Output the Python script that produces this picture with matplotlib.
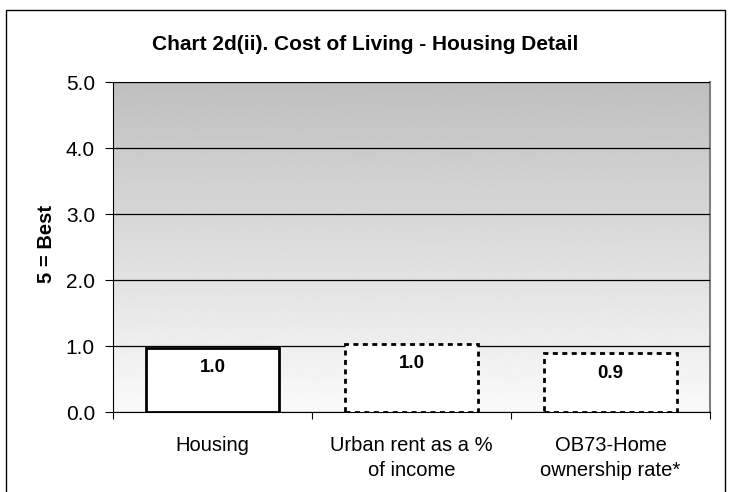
import numpy as np
import matplotlib
matplotlib.use("agg")
import matplotlib.pyplot as plt
from matplotlib.patches import Rectangle

categories = ["Housing", "Urban rent as a %\nof income", "OB73-Home\nownership rate*"]
values = [0.97, 1.03, 0.89]
labels = ["1.0", "1.0", "0.9"]
styles = ["solid", "dotted", "dotted"]

plt.rcParams["font.family"] = ["Liberation Sans", "DejaVu Sans"]

fig = plt.figure(figsize=(7.30, 4.92), dpi=100)
ax = fig.add_axes([113 / 730, 1 - 412 / 492, (710 - 113) / 730, (412 - 82) / 492])

# gradient background, gray at top to near white at bottom
grad = np.linspace(0.98, 0.75, 256).reshape(-1, 1)
ax.imshow(grad, cmap="gray", vmin=0, vmax=1, aspect="auto", origin="lower",
          extent=[-0.5, 2.5, 0, 5], zorder=0)

x = np.arange(len(categories))
for i, (v, s) in enumerate(zip(values, styles)):
    ax.bar(x[i], v, width=0.667, facecolor="white", edgecolor="black",
           linewidth=2, linestyle=(0, (1.8, 1.6)) if s == "dotted" else "solid", zorder=3)
    ax.text(x[i], v - 0.3, labels[i], ha="center", va="center",
            fontsize=13.5, fontweight="bold", zorder=4)

ax.set_xlim(-0.5, 2.5)
ax.set_ylim(0, 5)
ax.set_yticks(np.arange(0, 5.1, 1.0))
ax.set_yticklabels([f"{t:.1f}" for t in np.arange(0, 5.1, 1.0)], fontsize=15)
ax.yaxis.grid(True, color="black", linewidth=0.9)
ax.set_axisbelow(False)
for line in ax.get_ygridlines():
    line.set_zorder(1)

ax.set_xticks([-0.5, 0.5, 1.5, 2.5])
ax.set_xticklabels([])
ax.set_xticks(x, minor=True)
ax.set_xticklabels(categories, minor=True, fontsize=14.5, linespacing=1.45)
ax.tick_params(axis="x", which="minor", length=0, pad=17)
ax.tick_params(axis="x", which="major", length=5, direction="out")
ax.tick_params(axis="y", length=6, direction="out", pad=7)

ax.spines["left"].set_color("black")
ax.spines["bottom"].set_color("black")
ax.spines["top"].set_color("#808080")
ax.spines["right"].set_color("#808080")
ax.spines["right"].set_linewidth(1.5)

ax.set_ylabel("5 = Best", fontsize=14.5, fontweight="bold")
ax.yaxis.set_label_coords((56 - 113) / 597, 0.51)
fig.text(0.5, 1 - 45 / 492, "Chart 2d(ii). Cost of Living - Housing Detail",
         ha="center", va="center", fontsize=15, fontweight="bold")

fig.patches.append(Rectangle((6 / 730, -0.05), (725 - 6) / 730, 1.05 - 10 / 492,
                             transform=fig.transFigure, fill=False,
                             edgecolor="black", linewidth=1))

fig.savefig("out.png", dpi=100)
